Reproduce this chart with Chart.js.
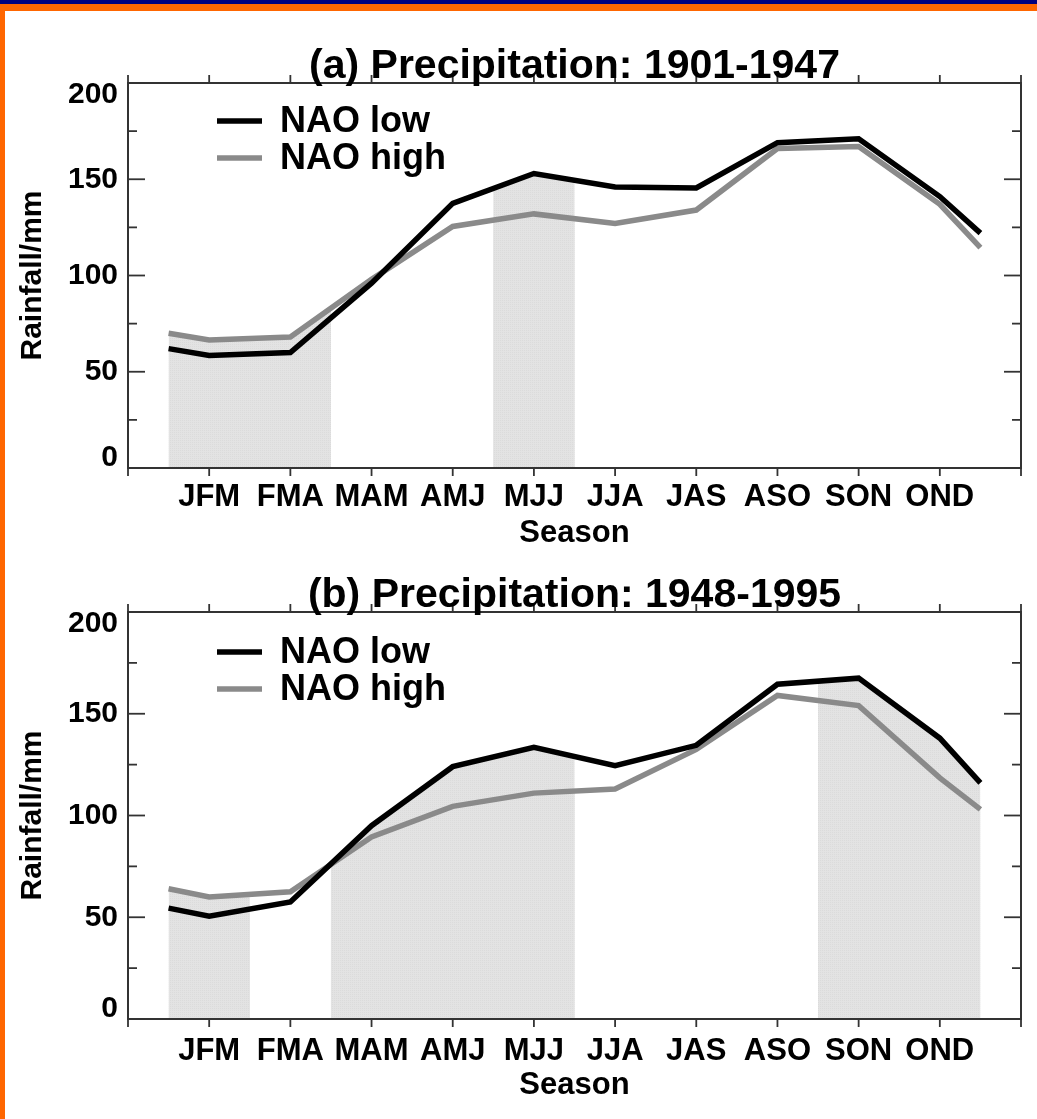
<!DOCTYPE html>
<html>
<head>
<meta charset="utf-8">
<title>Precipitation by season, NAO low / high</title>
<script src="https://cdn.jsdelivr.net/npm/chart.js@4.4.1/dist/chart.umd.min.js"></script>
<style>
  html, body { margin: 0; padding: 0; background: #fff; }
  body { width: 1037px; height: 1119px; position: relative; overflow: hidden; }
  canvas { position: absolute; left: 0; }
  #chartA { top: 0; }
  #chartB { top: 560px; }
  .strip-blue { position: absolute; left: 0; top: 0; width: 1037px; height: 4px; background: #000080; }
  .strip-orange { position: absolute; left: 0; top: 4px; width: 1037px; height: 7px; background: #ff6600; }
  .strip-left { position: absolute; left: 0; top: 4px; width: 5px; height: 1115px; background: #ff6600; }
</style>
</head>
<body>
<canvas id="chartA" width="1037" height="560"></canvas>
<canvas id="chartB" width="1037" height="559"></canvas>
<div class="strip-blue"></div>
<div class="strip-orange"></div>
<div class="strip-left"></div>
<script>
const FONT = "'Liberation Sans', Arial, Helvetica, sans-serif";

const seasons = ['JFM', 'FMA', 'MAM', 'AMJ', 'MJJ', 'JJA', 'JAS', 'ASO', 'SON', 'OND'];
// season centres, plus the half-step points at both ends of each curve
const xPos = [0.5, 1, 2, 3, 4, 5, 6, 7, 8, 9, 10, 10.5];

// (a) 1901-1947, rainfall in mm
const lowA  = [62, 58.5, 60, 96, 137.5, 153, 146, 145.5, 169, 171, 141, 122];
const highA = [70, 66.5, 68, 98, 125.5, 132, 127, 134, 166, 167, 137, 114.5];
// (b) 1948-1995
const lowB  = [54.5, 50.5, 57.5, 95, 124, 133.5, 124.5, 134.5, 164.5, 167.5, 138, 116];
const highB = [64, 60, 62.5, 89.5, 104.5, 111, 113, 132.5, 159, 154, 118.5, 103];

// shaded season ranges (x from, x to)
const shadeA = [[0.5, 2.5], [4.5, 5.5]];
const shadeB = [[0.5, 1.5], [2.5, 5.5], [8.5, 10.5]];

const yMajor = [0, 50, 100, 150, 200];
const yMinor = [25, 75, 125, 175];

// light grey stipple for the shaded ranges
const stipple = (() => {
  const c = document.createElement('canvas');
  c.width = 2; c.height = 2;
  const g = c.getContext('2d');
  g.fillStyle = '#e3e3e3'; g.fillRect(0, 0, 2, 2);
  g.fillStyle = '#dbdbdb'; g.fillRect(0, 0, 1, 1);
  return g.createPattern(c, 'repeat');
})();

function points(vals) {
  return xPos.map((x, i) => ({ x, y: vals[i] }));
}

function decor(shade, title, titleY, legendY) {
  return {
    id: 'decor',
    beforeDatasetsDraw(chart) {
      const { ctx, chartArea: a, scales: { x, y } } = chart;
      const base = y.getPixelForValue(0);
      ctx.save();
      ctx.fillStyle = stipple;
      shade.forEach(([x0, x1]) => {
        const p0 = x.getPixelForValue(x0), p1 = x.getPixelForValue(x1);
        ctx.save();
        ctx.beginPath();
        ctx.rect(p0, a.top, p1 - p0, base - a.top);
        ctx.clip();
        // fill under both curves -> area under the upper one
        chart.data.datasets.forEach((ds, i) => {
          const pts = chart.getDatasetMeta(i).data;
          ctx.beginPath();
          ctx.moveTo(pts[0].x, base);
          pts.forEach(p => ctx.lineTo(p.x, p.y));
          ctx.lineTo(pts[pts.length - 1].x, base);
          ctx.closePath();
          ctx.fill();
        });
        ctx.restore();
      });
      ctx.restore();
    },
    afterDatasetsDraw(chart) {
      const { ctx, chartArea: a, scales: { x, y } } = chart;
      const seg = (x1, y1, x2, y2) => { ctx.beginPath(); ctx.moveTo(x1, y1); ctx.lineTo(x2, y2); ctx.stroke(); };
      ctx.save();
      ctx.strokeStyle = '#333';
      ctx.lineWidth = 2;
      ctx.strokeRect(a.left, a.top, a.width, a.height);
      ctx.lineWidth = 1.8;
      x.ticks.forEach(t => {
        const px = x.getPixelForValue(t.value);
        seg(px, a.bottom, px, a.bottom + 8);
        seg(px, a.top, px, a.top - 8);
      });
      yMajor.forEach(v => {
        const py = y.getPixelForValue(v);
        seg(a.left, py, a.left + 17, py);
        seg(a.right, py, a.right - 17, py);
      });
      yMinor.forEach(v => {
        const py = y.getPixelForValue(v);
        seg(a.left, py, a.left + 9, py);
        seg(a.right, py, a.right - 9, py);
      });
      ctx.restore();
    },
    afterDraw(chart) {
      const { ctx, chartArea: a } = chart;
      ctx.save();
      ctx.fillStyle = '#000';
      ctx.font = 'bold 41px ' + FONT;
      ctx.textAlign = 'center';
      ctx.textBaseline = 'alphabetic';
      ctx.fillText(title, (a.left + a.right) / 2, titleY);

      // legend, top left inside the plot
      ctx.font = 'bold 36px ' + FONT;
      ctx.textAlign = 'left';
      ctx.textBaseline = 'middle';
      chart.data.datasets.forEach((ds, i) => {
        const ly = a.top + legendY + i * 37;
        ctx.strokeStyle = ds.borderColor;
        ctx.lineWidth = ds.borderWidth;
        ctx.beginPath();
        ctx.moveTo(a.left + 89, ly);
        ctx.lineTo(a.left + 134, ly);
        ctx.stroke();
        ctx.fillText(ds.label, a.left + 152, ly + 1);
      });
      ctx.restore();
    }
  };
}

function makeChart(id, low, high, shade, title, o) {
  new Chart(document.getElementById(id), {
    type: 'line',
    data: {
      datasets: [
        { label: 'NAO low', data: points(low), borderColor: '#000', borderWidth: 5.5 },
        { label: 'NAO high', data: points(high), borderColor: '#8a8a8a', borderWidth: 5.5 }
      ]
    },
    options: {
      responsive: false,
      animation: false,
      events: [],
      elements: { point: { radius: 0 }, line: { tension: 0, fill: false } },
      layout: { padding: { top: o.top, right: 16, left: 0, bottom: 0 }, autoPadding: false },
      plugins: { legend: { display: false }, tooltip: { enabled: false }, title: { display: false } },
      scales: {
        x: {
          type: 'linear',
          min: 0,
          max: 11,
          grid: { display: false, drawTicks: false },
          border: { display: false },
          afterFit: s => { s.height = o.xHeight; },
          ticks: {
            stepSize: 1,
            autoSkip: false,
            maxRotation: 0,
            minRotation: 0,
            padding: o.xPad,
            color: '#000',
            font: { family: FONT, size: 31, weight: 'bold' },
            callback: v => seasons[v - 1] || ''
          },
          title: {
            display: true,
            text: 'Season',
            color: '#000',
            font: { family: FONT, size: 31, weight: 'bold' },
            padding: { top: 0, bottom: o.seasonPad }
          }
        },
        y: {
          min: 0,
          max: 200,
          grid: { display: false, drawTicks: false },
          border: { display: false },
          afterFit: s => { s.width = 128; },
          ticks: {
            stepSize: 50,
            padding: 10,
            color: '#000',
            // end labels sit inside the axis range: 0 nudged up, 200 nudged down
            font: c => {
              const v = c.tick ? c.tick.value : null;
              const lh = v === 200 ? '24px' : v === 0 ? '20px' : 1.2;
              return { family: FONT, size: 30, weight: 'bold', lineHeight: lh };
            },
            callback: v => v === 200 ? ['', '200'] : v === 0 ? ['0', ''] : String(v)
          },
          title: {
            display: true,
            text: 'Rainfall/mm',
            color: '#000',
            font: { family: FONT, size: 30, weight: 'bold' },
            padding: { top: 15, bottom: 0 }
          }
        }
      }
    },
    plugins: [decor(shade, title, o.titleY, o.legendY)]
  });
}

makeChart('chartA', lowA, highA, shadeA, '(a) Precipitation: 1901-1947',
  { top: 83, xHeight: 92, xPad: 11, seasonPad: 8, titleY: 78, legendY: 38 });
makeChart('chartB', lowB, highB, shadeB, '(b) Precipitation: 1948-1995',
  { top: 52, xHeight: 100, xPad: 14, seasonPad: 15, titleY: 47, legendY: 40 });
</script>
</body>
</html>
